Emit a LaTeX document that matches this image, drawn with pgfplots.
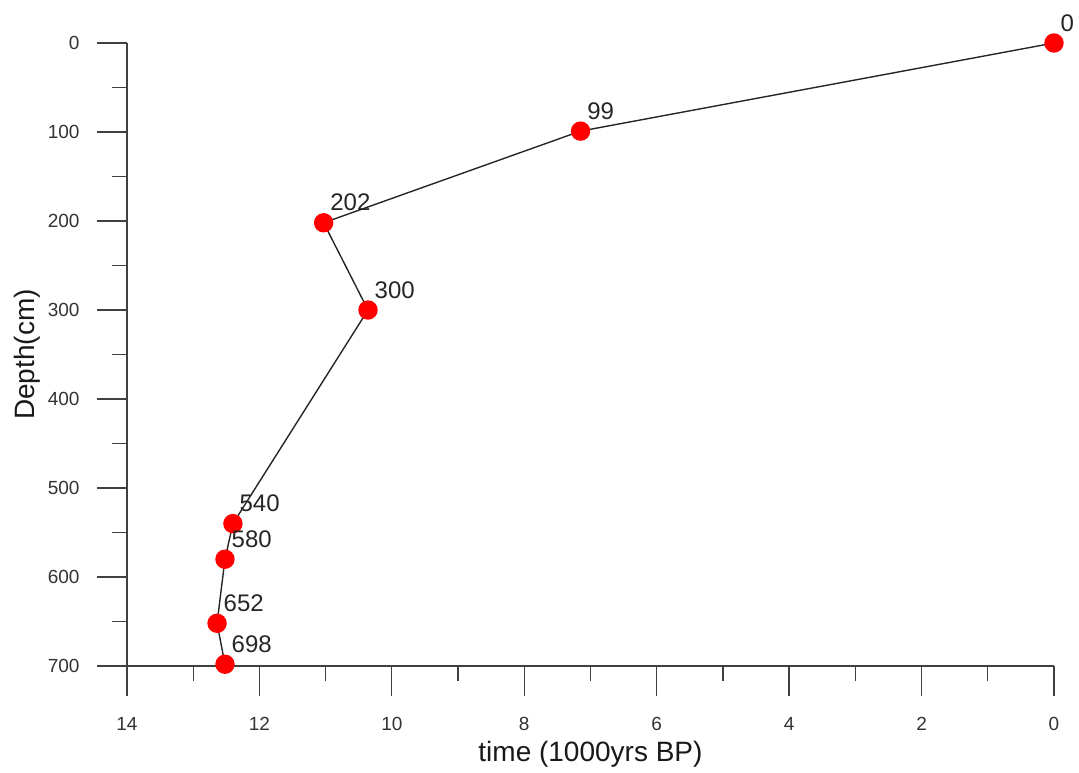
\documentclass[border=0pt]{standalone}
\usepackage{fontspec}
\setmainfont{Liberation Sans}
\usepackage{pgfplots}
\pgfplotsset{compat=1.18}
\begin{document}
\begin{tikzpicture}
\begin{axis}[
    scale only axis,
    width=927pt, height=623pt,
    xmin=0, xmax=14, ymin=0, ymax=700,
    x dir=reverse, y dir=reverse,
    axis x line*=bottom, axis y line*=left,
    xtick={0,2,...,14}, ytick={0,100,...,700},
    minor tick num=1,
    tick align=outside,
    major tick length=30pt, minor tick length=15pt,
    tick style={line width=1.3pt, black!75},
    axis line style={line width=1.3pt, black!75},
    /pgf/number format/assume math mode=true,
    tick label style={font=\fontsize{19}{22}\selectfont, text=black!80},
    xticklabel style={yshift=-18pt},
    yticklabel style={xshift=-14pt},
    label style={font=\fontsize{28}{32}\selectfont, text=black!90},
    xlabel={time (1000yrs BP)},
    ylabel={Depth(cm)},
    xlabel shift=3pt,
    ylabel shift=1pt,
    clip=false,
]
\addplot[black!85, line width=1.4pt, mark=*, mark size=9pt,
    mark options={fill=red, draw=red},
    nodes near coords, point meta=y,
    nodes near coords style={anchor=south west, inner sep=0pt, xshift=6pt, yshift=11pt,
        font=\fontsize{24}{28}\selectfont, text=black!85}]
table {
x y
0 0
7.15 99
11.03 202
10.36 300
12.40 540
12.52 580
12.64 652
12.52 698
};
\coordinate (sw) at (axis cs:14,700);
\end{axis}
\pgfresetboundingbox
\path[use as bounding box] ([shift={(-127pt,-107pt)}]sw) rectangle ([shift={(952pt,666pt)}]sw);
\end{tikzpicture}
\end{document}
